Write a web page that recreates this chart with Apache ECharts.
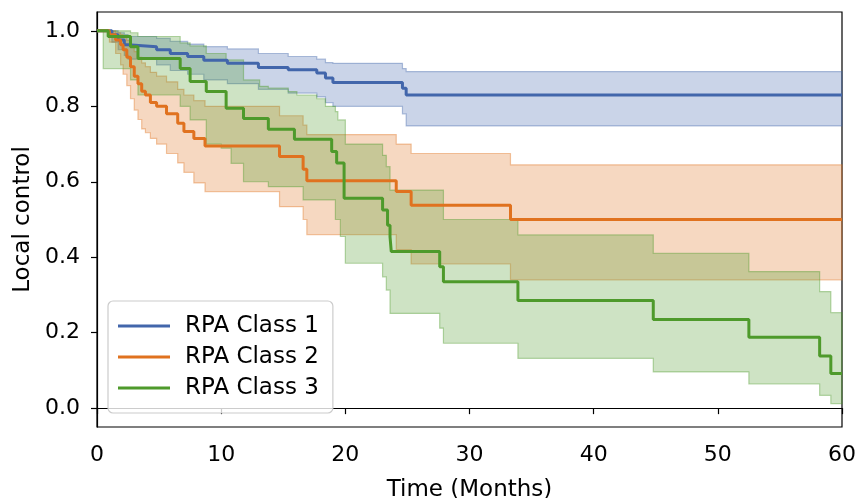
<!DOCTYPE html>
<html>
<head>
<meta charset="utf-8">
<script src="https://cdn.jsdelivr.net/npm/echarts@6/dist/echarts.min.js"></script>
<style>
  html, body { margin: 0; padding: 0; background: #fff; }
  #main { width: 856px; height: 498px; }
</style>
</head>
<body>
<div id="main"></div>
<script>
// RPA Class 1 (blue) - curve and confidence band share the same times
const c1Time = [0, 1.2, 1.7, 2.2, 2.5, 4.8, 5.9, 7.3, 8.6, 10.5, 13.0, 15.4, 17.7, 18.4, 19.0, 24.6, 24.9, 60];
const c1Surv = [1.0, 0.99, 0.976, 0.963, 0.958, 0.95, 0.94, 0.932, 0.922, 0.914, 0.903, 0.897, 0.888, 0.875, 0.863, 0.848, 0.83, 0.83];
const c1Low  = [1.0, 0.97, 0.95, 0.935, 0.925, 0.91, 0.895, 0.885, 0.87, 0.86, 0.845, 0.835, 0.825, 0.81, 0.80, 0.78, 0.748, 0.748];
const c1High = [1.0, 1.0, 0.995, 0.99, 0.985, 0.98, 0.972, 0.965, 0.958, 0.952, 0.94, 0.932, 0.925, 0.916, 0.914, 0.90, 0.892, 0.892];

// RPA Class 2 (orange)
const c2Time = [0, 1.0, 1.5, 1.9, 2.1, 2.4, 2.7, 3.0, 3.3, 3.6, 3.9, 4.3, 4.8, 5.6, 6.5, 7.0, 7.8, 8.7, 14.7, 16.6, 16.9, 24.1, 25.3, 33.3, 60];
const c2Surv = [1.0, 0.99, 0.976, 0.963, 0.95, 0.93, 0.905, 0.88, 0.86, 0.84, 0.83, 0.81, 0.80, 0.78, 0.755, 0.733, 0.715, 0.695, 0.667, 0.633, 0.603, 0.574, 0.538, 0.50, 0.50];
const c2Low  = [1.0, 0.97, 0.94, 0.91, 0.885, 0.855, 0.82, 0.79, 0.765, 0.74, 0.73, 0.715, 0.70, 0.675, 0.65, 0.625, 0.597, 0.574, 0.534, 0.50, 0.46, 0.42, 0.382, 0.34, 0.34];
const c2High = [1.0, 1.0, 0.995, 0.99, 0.985, 0.975, 0.96, 0.945, 0.93, 0.915, 0.905, 0.89, 0.88, 0.865, 0.845, 0.83, 0.815, 0.80, 0.775, 0.75, 0.725, 0.70, 0.675, 0.645, 0.645];

// RPA Class 3 (green) - band has its own step times
const c3Time = [0, 0.9, 2.7, 3.3, 6.7, 7.5, 8.8, 10.4, 11.8, 13.8, 15.9, 18.9, 19.3, 19.9, 23.0, 23.4, 23.6, 23.7, 27.6, 27.9, 33.9, 44.8, 52.5, 58.2, 59.1, 60];
const c3Surv = [1.0, 0.985, 0.958, 0.927, 0.90, 0.866, 0.839, 0.795, 0.768, 0.739, 0.713, 0.68, 0.65, 0.556, 0.525, 0.485, 0.454, 0.415, 0.375, 0.335, 0.285, 0.235, 0.188, 0.138, 0.092, 0.092];
const c3BandTime = [0, 0.5, 2.7, 3.3, 6.7, 7.5, 8.8, 10.0, 10.4, 10.8, 11.8, 13.1, 13.8, 15.4, 16.1, 16.6, 17.7, 18.4, 19.2, 19.4, 19.6, 20.0, 23.0, 23.3, 23.6, 27.6, 27.9, 33.9, 44.8, 52.5, 58.2, 59.1, 60];
const c3Low  = [1.0, 0.90, 0.87, 0.83, 0.80, 0.764, 0.70, 0.689, 0.689, 0.649, 0.60, 0.60, 0.587, 0.587, 0.587, 0.552, 0.552, 0.552, 0.50, 0.50, 0.455, 0.384, 0.348, 0.313, 0.251, 0.212, 0.172, 0.132, 0.096, 0.064, 0.034, 0.012, 0.012];
const c3High = [1.0, 1.0, 0.995, 0.985, 0.968, 0.96, 0.94, 0.94, 0.923, 0.923, 0.87, 0.853, 0.848, 0.839, 0.83, 0.83, 0.82, 0.80, 0.786, 0.764, 0.764, 0.70, 0.67, 0.64, 0.578, 0.578, 0.50, 0.459, 0.41, 0.362, 0.309, 0.253, 0.253];

const names = ['RPA Class 1', 'RPA Class 2', 'RPA Class 3'];
const colors = ['#4266ab', '#e0721f', '#4e9a2b'];
const xTicks = [0, 10, 20, 30, 40, 50, 60];
const yTicks = [0.0, 0.2, 0.4, 0.6, 0.8, 1.0];

const font = 'DejaVu Sans';

function zip(xs, ys) {
    return xs.map((x, i) => [x, ys[i]]);
}

// confidence band drawn as one step-shaped polygon (like fill_between step='post')
function band(id, times, low, high, color) {
    const rows = times.map((t, i) => [t, low[i], high[i]]);
    return {
        id: id, type: 'custom', silent: true, z: 1,
        data: rows,
        encode: { x: 0, y: [1, 2] },
        renderItem: function (params, api) {
            if (params.dataIndex !== 0) return null;
            const top = [], bot = [];
            for (let i = 0; i < rows.length - 1; i++) {
                const t0 = rows[i][0], t1 = rows[i + 1][0];
                top.push(api.coord([t0, rows[i][2]]), api.coord([t1, rows[i][2]]));
                bot.push(api.coord([t0, rows[i][1]]), api.coord([t1, rows[i][1]]));
            }
            const pts = top.concat(bot.reverse());
            return {
                type: 'polygon',
                shape: { points: pts },
                style: {
                    fill: echarts.color.modifyAlpha(color, 0.28),
                    stroke: echarts.color.modifyAlpha(color, 0.4),
                    lineWidth: 1.2
                }
            };
        }
    };
}

function curve(name, times, surv, color) {
    return {
        name: name, type: 'line', step: 'end',
        data: zip(times, surv), symbol: 'none',
        lineStyle: { color: color, width: 3 },
        itemStyle: { color: color }, z: 5
    };
}

const myChart = echarts.init(document.getElementById('main'));
const option = {
    animation: false,
    backgroundColor: '#fff',
    grid: {
        left: 97, right: 14, top: 12, bottom: 71,
        outerBoundsMode: 'none',
        show: true, borderColor: '#000', borderWidth: 1.2, backgroundColor: 'transparent'
    },
    legend: {
        data: names,
        orient: 'vertical',
        left: 108, top: 301,
        icon: 'rect', itemWidth: 52, itemHeight: 3, itemGap: 7,
        padding: [13, 14, 13, 10],
        borderColor: '#cccccc', borderWidth: 1.2, borderRadius: 5,
        backgroundColor: 'rgba(255,255,255,0.8)',
        textStyle: { fontFamily: font, fontSize: 23, color: '#000', lineHeight: 24, padding: [0, 0, 0, 10] }
    },
    xAxis: {
        type: 'value', min: 0, max: 60, interval: 10,
        name: 'Time (Months)', nameLocation: 'middle', nameGap: 52,
        nameTextStyle: { fontFamily: font, fontSize: 23, color: '#000' },
        axisLine: { show: true, lineStyle: { color: '#000', width: 1.2 } },
        axisTick: { show: true, length: 6, lineStyle: { color: '#000', width: 1.2 }, customValues: xTicks },
        axisLabel: { fontFamily: font, fontSize: 22, color: '#000', margin: 17, customValues: xTicks },
        splitLine: { show: false }
    },
    yAxis: {
        type: 'value', min: -0.05, max: 1.05,
        name: 'Local control', nameLocation: 'middle', nameGap: 62,
        nameTextStyle: { fontFamily: font, fontSize: 23, color: '#000' },
        axisLine: { show: true, lineStyle: { color: '#000', width: 1.2 } },
        axisTick: { show: true, length: 6, lineStyle: { color: '#000', width: 1.2 }, customValues: yTicks },
        axisLabel: {
            fontFamily: font, fontSize: 22, color: '#000', margin: 17,
            customValues: yTicks,
            formatter: v => v.toFixed(1)
        },
        splitLine: { show: false }
    },
    series: [
        band('b1', c1Time, c1Low, c1High, colors[0]),
        band('b2', c2Time, c2Low, c2High, colors[1]),
        band('b3', c3BandTime, c3Low, c3High, colors[2]),
        curve(names[0], c1Time, c1Surv, colors[0]),
        curve(names[1], c2Time, c2Surv, colors[1]),
        curve(names[2], c3Time, c3Surv, colors[2])
    ]
};
myChart.setOption(option);
</script>
</body>
</html>
